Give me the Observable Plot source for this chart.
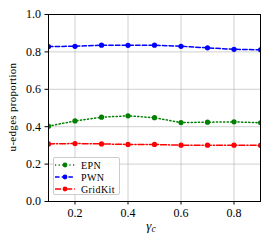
<!DOCTYPE html>
<html><head><meta charset="utf-8">
<script src="https://cdn.jsdelivr.net/npm/d3@7"></script>
<script src="https://cdn.jsdelivr.net/npm/@observablehq/plot@0.6"></script>
<style>
body{margin:0;background:#fff;}
#wrap{position:relative;width:274px;height:248px;font-family:"Liberation Serif","Times New Roman","DejaVu Serif",serif;}
#wrap svg text{font-family:"Liberation Serif","Times New Roman","DejaVu Serif",serif;}
#legend{position:absolute;left:53px;top:157px;width:67px;height:38px;background:rgba(255,255,255,0.85);border:1px solid #ccc;border-radius:2px;box-sizing:border-box;font-size:10px;letter-spacing:0.4px;padding-top:1px;}
#legend div{display:flex;align-items:center;height:12px;padding-left:1px;}
#legend span{margin-left:6px;}
</style>
</head><body>
<div id="wrap"><div id="legend"></div></div>
<script>
const gamma = [0.1,0.2,0.3,0.4,0.5,0.6,0.7,0.8,0.9];
const EPN = [0.403,0.431,0.451,0.458,0.448,0.422,0.424,0.426,0.421];
const PWN = [0.829,0.830,0.836,0.835,0.836,0.830,0.822,0.814,0.811];
const GridKit = [0.308,0.310,0.308,0.305,0.305,0.301,0.301,0.301,0.300];
const seriesNames = ["EPN","PWN","GridKit"];
const seriesValues = [EPN,PWN,GridKit];
const colors = ["#008000","#0000ff","#ff0000"];
const dashes = ["1.2,2.4","4.5,2.2","6,2,1.2,2"];
const xTicks = [0.2,0.4,0.6,0.8];
const yTicks = [0,0.2,0.4,0.6,0.8,1.0];
const FONT = "'Liberation Serif', 'Times New Roman', 'DejaVu Serif', serif";

const marks = [
  Plot.gridX(xTicks,{stroke:"#b0b0b0",strokeOpacity:0.6,strokeWidth:1}),
  Plot.gridY(yTicks,{stroke:"#b0b0b0",strokeOpacity:0.6,strokeWidth:1}),
];
seriesNames.forEach((name,i)=>{
  const data = gamma.map((g,j)=>({g, v: seriesValues[i][j]}));
  marks.push(Plot.line(data,{x:"g",y:"v",stroke:colors[i],strokeWidth:1.5,strokeDasharray:dashes[i],clip:true}));
  marks.push(Plot.dot(data,{x:"g",y:"v",fill:colors[i],r:2.6,clip:true}));
});
marks.push(Plot.frame({stroke:"#000",strokeWidth:1}));
marks.push(Plot.axisX(xTicks,{tickFormat:d3.format(".1f"),tickSize:3.5,tickPadding:3,fontSize:12,fontFamily:FONT,label:null}));
marks.push(Plot.axisY(yTicks,{tickFormat:d3.format(".1f"),tickSize:3.5,tickPadding:4,fontSize:12,fontFamily:FONT,label:null}));

const chart = Plot.plot({
  width:274,height:248,
  marginLeft:48,marginRight:14,marginTop:14,marginBottom:47,
  style:{fontFamily:FONT,background:"#fff",color:"#000"},
  x:{domain:[0.1,0.9]},
  y:{domain:[0,1]},
  marks
});
const svg = d3.select(chart);
svg.append("text").attr("transform","translate(13,107) rotate(-90)").attr("text-anchor","middle")
  .attr("dominant-baseline","middle").style("font-size","11px").style("letter-spacing","0.3px").text("u-edges proportion");
const xl = svg.append("text").attr("x",151).attr("y",230).attr("text-anchor","middle")
  .style("font-size","13px").style("font-style","italic");
xl.append("tspan").text("γ");
xl.append("tspan").attr("dy",2).style("font-size","9.5px").text("c");
document.getElementById("wrap").prepend(chart);

const leg = d3.select("#legend");
seriesNames.forEach((name,i)=>{
  const row = leg.append("div");
  const s = row.append("svg").attr("width",20).attr("height",8);
  s.append("line").attr("x1",0).attr("x2",20).attr("y1",4).attr("y2",4).attr("stroke",colors[i]).attr("stroke-width",1.5).attr("stroke-dasharray",dashes[i]);
  s.append("circle").attr("cx",10).attr("cy",4).attr("r",2.4).attr("fill",colors[i]);
  row.append("span").text(name);
});
</script>
</body></html>
